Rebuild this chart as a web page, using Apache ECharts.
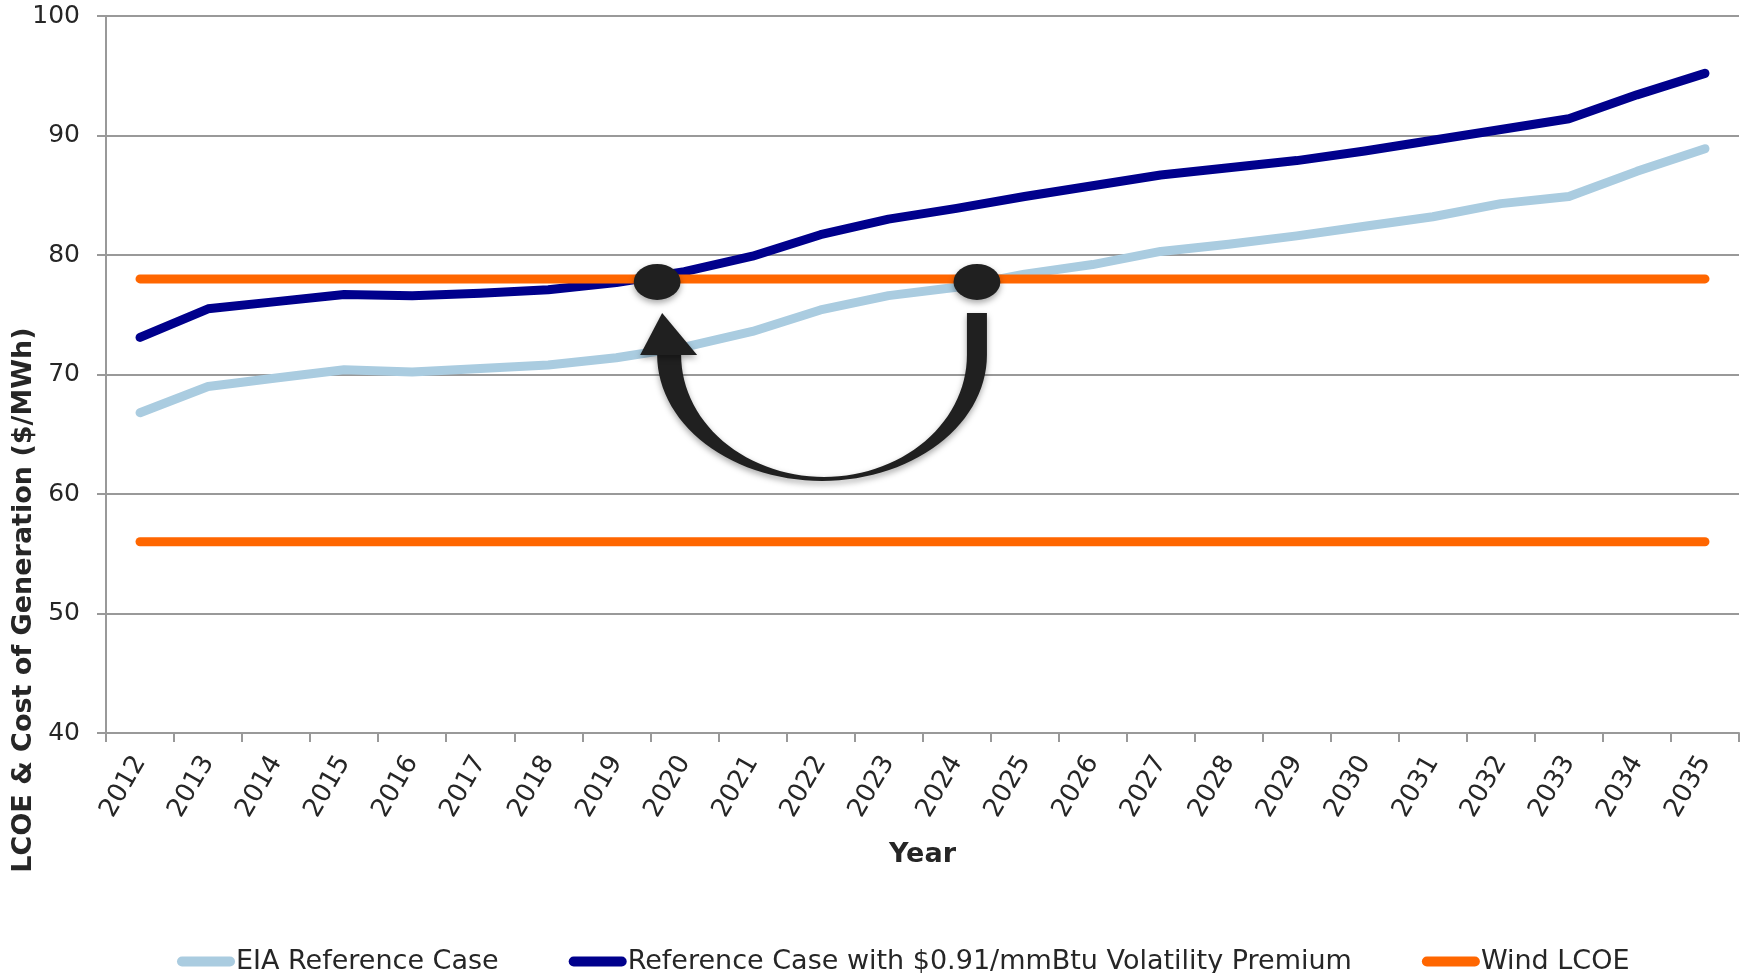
<!DOCTYPE html>
<html>
<head>
<meta charset="utf-8">
<title>LCOE & Cost of Generation</title>
<script src="https://cdn.jsdelivr.net/npm/echarts@6/dist/echarts.min.js"></script>
<style>
  html, body { margin: 0; padding: 0; background: #ffffff; }
  #chart { width: 1752px; height: 973px; }
</style>
</head>
<body>
<div id="chart"></div>
<script>
// Years on the horizontal axis
const years = ['2012','2013','2014','2015','2016','2017','2018','2019','2020','2021','2022','2023',
               '2024','2025','2026','2027','2028','2029','2030','2031','2032','2033','2034','2035'];

// Cost of generation, $/MWh
const eiaReference = [66.8, 69.0, 69.7, 70.4, 70.2, 70.5, 70.8, 71.4, 72.3, 73.6, 75.4, 76.6,
                      77.3, 78.4, 79.2, 80.3, 80.9, 81.6, 82.4, 83.2, 84.3, 84.9, 87.0, 88.9];
const volatilityPremium = [73.1, 75.5, 76.1, 76.7, 76.6, 76.8, 77.1, 77.7, 78.6, 79.9, 81.7, 83.0,
                           83.9, 84.9, 85.8, 86.7, 87.3, 87.9, 88.7, 89.6, 90.5, 91.4, 93.4, 95.2];

// Wind LCOE band: upper and lower estimates, $/MWh
const windHigh = [78, 78, 78, 78, 78, 78, 78, 78, 78, 78, 78, 78,
                  78, 78, 78, 78, 78, 78, 78, 78, 78, 78, 78, 78];
const windLow  = [56, 56, 56, 56, 56, 56, 56, 56, 56, 56, 56, 56,
                  56, 56, 56, 56, 56, 56, 56, 56, 56, 56, 56, 56];

// Value-axis ticks
const yTicks = { min: 40, max: 100, step: 10 };

// Points where each gas case meets the upper wind cost (year, $/MWh)
const premiumMeetsWind = { year: 2019.6, value: 77.75 };
const referenceMeetsWind = { year: 2024.3, value: 77.75 };

const FONT = 'DejaVu Sans';
const TEXT = '#262626';
const GRID = '#999999';
const LIGHT_BLUE = '#AACCE0';
const NAVY = '#00008C';
const ORANGE = '#FF6600';
const capsule = 'path://M5,0 L53,0 A5,5 0 0 1 53,10 L5,10 A5,5 0 0 1 5,0 Z';

function lineSeries(name, data, color) {
  return {
    name: name,
    type: 'line',
    data: data,
    color: color,
    symbol: 'none',
    smooth: false,
    lineStyle: { color: color, width: 9, cap: 'round', join: 'round' },
    emphasis: { disabled: true },
    animation: false
  };
}

const chart = echarts.init(document.getElementById('chart'), null, { renderer: 'canvas' });

const option = {
  backgroundColor: '#ffffff',
  animation: false,
  textStyle: { fontFamily: FONT },
  grid: {
    left: 106, right: 13, top: 16, bottom: 240,
    containLabel: false,
    outerBoundsMode: 'none'
  },
  legend: {
    left: 172,
    top: 943,
    itemWidth: 60,
    itemHeight: 10,
    itemGap: 70,
    icon: capsule,
    textStyle: { fontFamily: FONT, fontSize: 27, color: TEXT, padding: [0, 0, 0, -5] },
    data: ['EIA Reference Case', 'Reference Case with $0.91/mmBtu Volatility Premium', 'Wind LCOE'],
    selectedMode: false
  },
  xAxis: {
    type: 'category',
    data: years,
    boundaryGap: true,
    name: 'Year',
    nameLocation: 'middle',
    nameGap: 108,
    nameTextStyle: { fontFamily: FONT, fontSize: 27, fontWeight: 'bold', color: TEXT },
    axisLine: { show: true, lineStyle: { color: GRID, width: 2 } },
    axisTick: { show: true, length: 9, alignWithLabel: false, lineStyle: { color: GRID, width: 2 } },
    axisLabel: {
      interval: 0,
      rotate: 60,
      margin: 25,
      fontFamily: FONT,
      fontSize: 26,
      color: TEXT
    },
    splitLine: { show: false }
  },
  yAxis: {
    type: 'value',
    min: yTicks.min,
    max: yTicks.max,
    interval: yTicks.step,
    axisLine: { show: true, lineStyle: { color: GRID, width: 2 } },
    axisTick: { show: true, length: 9, lineStyle: { color: GRID, width: 2 } },
    axisLabel: { margin: 26, fontFamily: FONT, fontSize: 25, color: TEXT },
    splitLine: { show: true, lineStyle: { color: GRID, width: 2 } }
  },
  series: [
    lineSeries('EIA Reference Case', eiaReference, LIGHT_BLUE),
    lineSeries('Reference Case with $0.91/mmBtu Volatility Premium', volatilityPremium, NAVY),
    lineSeries('Wind LCOE', windHigh, ORANGE),
    lineSeries('Wind LCOE', windLow, ORANGE)
  ]
};

chart.setOption(option);

// Pixel position of a (possibly fractional) year at a given value
function toPixel(year, value) {
  const idx = year - Number(years[0]);
  const i0 = Math.max(0, Math.min(years.length - 1, Math.floor(idx)));
  const i1 = Math.min(years.length - 1, i0 + 1);
  const p0 = chart.convertToPixel({ gridIndex: 0 }, [i0, value]);
  const p1 = chart.convertToPixel({ gridIndex: 0 }, [i1, value]);
  const t = idx - i0;
  return [p0[0] + (p1[0] - p0[0]) * t, p0[1]];
}

const L = toPixel(premiumMeetsWind.year, premiumMeetsWind.value);
const R = toPixel(referenceMeetsWind.year, referenceMeetsWind.value);

const DARK = '#202020';
const shadow = { shadowBlur: 6, shadowOffsetX: 0, shadowOffsetY: 3, shadowColor: 'rgba(0,0,0,0.35)' };

// Curved arrow sweeping from the later crossing back to the earlier one
function crescent() {
  const top = R[1] + 31;
  const midY = L[1] + 73;
  const outer = { cx: (L[0] + R[0] + 10) / 2, rx: (R[0] + 10 - L[0]) / 2, ry: 126 };
  const inner = { cx: (L[0] + 24 + R[0] - 10) / 2, rx: (R[0] - 10 - L[0] - 24) / 2, ry: 122 };
  const pts = [[R[0] + 10, top], [R[0] + 10, midY]];
  const n = 60;
  for (let k = 0; k <= n; k++) {
    const a = Math.PI * k / n;
    pts.push([outer.cx + outer.rx * Math.cos(a), midY + outer.ry * Math.sin(a)]);
  }
  for (let k = n; k >= 0; k--) {
    const a = Math.PI * k / n;
    pts.push([inner.cx + inner.rx * Math.cos(a), midY + inner.ry * Math.sin(a)]);
  }
  pts.push([R[0] - 10, top]);
  return { pts: pts, midY: midY, top: top };
}

const arc = crescent();

chart.setOption({
  graphic: [
    {
      type: 'polygon',
      z: 100,
      shape: { points: arc.pts },
      style: Object.assign({ fill: DARK }, shadow)
    },
    {
      type: 'polygon',
      z: 101,
      shape: { points: [[L[0] + 5, arc.top], [L[0] - 17, arc.midY], [L[0] + 40, arc.midY]] },
      style: Object.assign({ fill: DARK }, shadow)
    },
    {
      type: 'circle',
      z: 102,
      x: L[0], y: L[1],
      scaleX: 1.3,
      shape: { cx: 0, cy: 0, r: 18 },
      style: Object.assign({ fill: DARK }, shadow)
    },
    {
      type: 'circle',
      z: 102,
      x: R[0], y: R[1],
      scaleX: 1.3,
      shape: { cx: 0, cy: 0, r: 18 },
      style: Object.assign({ fill: DARK }, shadow)
    },
    {
      type: 'text',
      z: 50,
      x: 24,
      y: 600,
      rotation: Math.PI / 2,
      style: {
        text: 'LCOE & Cost of Generation ($/MWh)',
        fontFamily: FONT,
        fontSize: 27,
        fontWeight: 'bold',
        fill: TEXT,
        align: 'center',
        verticalAlign: 'middle'
      }
    }
  ]
});
</script>
</body>
</html>
